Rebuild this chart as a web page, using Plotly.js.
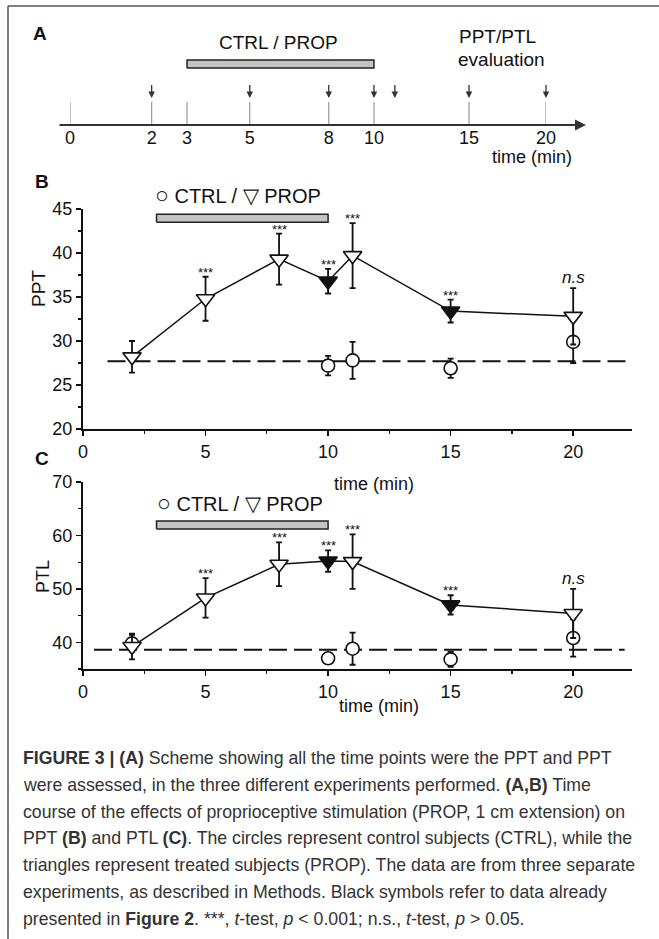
<!DOCTYPE html>
<html><head><meta charset="utf-8">
<script src="https://cdn.plot.ly/plotly-3.0.1.min.js"></script>
<style>html,body{margin:0;padding:0;background:#fff}</style>
</head><body><div id="chart" style="width:659px;height:939px"></div>
<script>
// ---------- Panel A (scheme) ----------
const schemeTicks = [0, 2, 3, 5, 8, 10, 15, 20];
const evalTimes = [2, 5, 8, 10, 11, 15, 20];
const treatment = [3, 10];

// ---------- Panels B & C ----------
const times = [2, 5, 8, 10, 11, 15, 20];
const propFilled = [false, false, false, true, false, true, false];

const pptProp = [28.2, 34.8, 39.3, 36.8, 39.7, 33.4, 32.8];
const pptPropErr = [1.8, 2.5, 2.9, 1.4, 3.7, 1.3, 3.2];
const pptSig = ['', '***', '***', '***', '***', '***', 'n.s'];
const pptCtrlTimes = [10, 11, 15, 20];
const pptCtrl = [27.2, 27.8, 26.9, 29.9];
const pptCtrlErr = [1.1, 2.1, 1.1, 2.4];
const pptBaseline = 27.7;
const pptBaselineSpan = [1.0, 22.4];

const ptlProp = [39.2, 48.3, 54.6, 55.2, 55.1, 47.0, 45.4];
const ptlPropErr = [2.4, 3.7, 4.1, 2.0, 5.1, 1.8, 4.6];
const ptlSig = ['', '***', '***', '***', '***', '***', 'n.s'];
const ptlCtrlTimes = [2, 10, 11, 15, 20];
const ptlCtrl = [39.8, 37.0, 38.8, 36.8, 40.8];
const ptlCtrlErr = [1.6, 0.8, 3.0, 1.4, 3.5];
const ptlBaseline = 38.6;
const ptlBaselineSpan = [0.45, 22.1];

const captionLines = [
  '<b>FIGURE 3 | (A)</b> Scheme showing all the time points were the PPT and PPT',
  'were assessed, in the three different experiments performed. <b>(A,B)</b> Time',
  'course of the effects of proprioceptive stimulation (PROP, 1 cm extension) on',
  'PPT <b>(B)</b> and PTL <b>(C)</b>. The circles represent control subjects (CTRL), while the',
  'triangles represent treated subjects (PROP). The data are from three separate',
  'experiments, as described in Methods. Black symbols refer to data already',
  'presented in <b>Figure 2</b>. ***, <i>t</i>-test, <i>p</i> &lt; 0.001; n.s., <i>t</i>-test, <i>p</i> &gt; 0.05.'
];

// ---------- layout helpers ----------
const W = 659, H = 939;
const fx = p => p / W;
const fy = p => 1 - p / H;
const FONT = 'Liberation Sans, Arial, sans-serif';
const OFF = 9; // offset for the schematic (log-like) time axis of panel A
const sx = t => t + OFF;

const traces = [];

// Panel A: vertical tick marks
const tx = [], ty = [];
schemeTicks.forEach(t => { tx.push(sx(t), sx(t), null); ty.push(0, 1, null); });
traces.push({x: tx, y: ty, xaxis: 'x3', yaxis: 'y3', mode: 'lines',
  line: {color: '#999', width: 1.2}, hoverinfo: 'skip'});
// Panel A: treatment bar
traces.push({x: [sx(treatment[0]), sx(treatment[1]), sx(treatment[1]), sx(treatment[0]), sx(treatment[0])],
  y: [2.48, 2.48, 2.83, 2.83, 2.48], xaxis: 'x3', yaxis: 'y3', mode: 'lines', fill: 'toself',
  fillcolor: '#c4c4c4', line: {color: '#222', width: 1.5}, hoverinfo: 'skip'});

function panel(xa, ya, ctrlT, ctrl, ctrlErr, prop, propErr, base, span, barY) {
  traces.push({x: span, y: [base, base], xaxis: xa, yaxis: ya, mode: 'lines',
    line: {color: '#111', width: 2, dash: '18px,7px'}, hoverinfo: 'skip'});
  traces.push({x: [treatment[0], treatment[1], treatment[1], treatment[0], treatment[0]],
    y: [barY[0], barY[0], barY[1], barY[1], barY[0]], xaxis: xa, yaxis: ya, mode: 'lines',
    fill: 'toself', fillcolor: '#c4c4c4', line: {color: '#222', width: 1.5}, hoverinfo: 'skip'});
  traces.push({x: ctrlT, y: ctrl, xaxis: xa, yaxis: ya, mode: 'markers', cliponaxis: false,
    error_y: {type: 'data', array: ctrlErr, color: '#111', thickness: 1.8, width: 3},
    marker: {symbol: 'circle', size: 13, color: '#fff', line: {color: '#111', width: 1.6}}});
  traces.push({x: times, y: prop, xaxis: xa, yaxis: ya, mode: 'lines+markers', cliponaxis: false,
    line: {color: '#111', width: 1.5},
    error_y: {type: 'data', array: propErr, color: '#111', thickness: 1.8, width: 3},
    marker: {symbol: 'triangle-down', size: 16, color: propFilled.map(f => f ? '#111' : '#fff'),
      line: {color: '#111', width: 1.6}}});
}
panel('x', 'y', pptCtrlTimes, pptCtrl, pptCtrlErr, pptProp, pptPropErr, pptBaseline, pptBaselineSpan, [43.5, 44.4]);
panel('x2', 'y2', ptlCtrlTimes, ptlCtrl, ptlCtrlErr, ptlProp, ptlPropErr, ptlBaseline, ptlBaselineSpan, [61.2, 62.7]);

const ann = [];
function txt(x, y, text, size, extra) {
  ann.push(Object.assign({x: fx(x), y: fy(y), xref: 'paper', yref: 'paper', text: text,
    xanchor: 'center', yanchor: 'middle',
    showarrow: false, font: {family: FONT, size: size, color: '#111'}}, extra || {}));
}
// Panel A texts
txt(40, 33, '<b>A</b>', 19);
txt(278, 42, 'CTRL / PROP', 19);
txt(497, 36, 'PPT/PTL', 19);
txt(501, 60, 'evaluation', 19);
txt(532, 157, 'time (min)', 18);
// axis arrow of A
ann.push({x: fx(586), y: fy(125), xref: 'paper', yref: 'paper', ax: -528, ay: 0, axref: 'pixel', ayref: 'pixel',
  text: '', showarrow: true, arrowhead: 2, arrowsize: 1.1, arrowwidth: 2, arrowcolor: '#333'});
// evaluation arrows
evalTimes.forEach(t => ann.push({x: Math.log10(sx(t)), y: 1.17, xref: 'x3', yref: 'y3',
  ax: Math.log10(sx(t)), ay: 1.8, axref: 'x3', ayref: 'y3', text: '', showarrow: true,
  arrowhead: 2, arrowsize: 1, arrowwidth: 1.3, arrowcolor: '#333'}));

// Panel B/C texts
const legendText = '<span style="font-size:23px">○</span> CTRL / <span style="font-size:21px">▽</span> PROP';
txt(42, 181, '<b>B</b>', 19);
txt(42, 458, '<b>C</b>', 19);
txt(238, 195, legendText, 20);
txt(240, 503, legendText, 20);
txt(38, 289, 'PPT', 19, {textangle: -90});
txt(43, 577, 'PTL', 18, {textangle: -90});
txt(374, 484, 'time (min)', 18);
txt(379, 706, 'time (min)', 18);

function sig(xa, ya, vals, errs, s) {
  times.forEach((t, i) => {
    if (!s[i]) return;
    const ns = s[i] === 'n.s';
    ann.push({x: t, y: vals[i] + errs[i], xref: xa, yref: ya, showarrow: false,
      xanchor: 'center', yanchor: 'bottom',
      yshift: ns ? -1 : -5, text: ns ? '<i>n.s</i>' : '***',
      font: {family: FONT, size: ns ? 17 : 13, color: '#111'}});
  });
}
sig('x', 'y', pptProp, pptPropErr, pptSig);
sig('x2', 'y2', ptlProp, ptlPropErr, ptlSig);

// caption
captionLines.forEach((l, i) => ann.push({x: fx(21), y: fy(758 + i * 26.8), xref: 'paper', yref: 'paper',
  xanchor: 'left', yanchor: 'middle', showarrow: false, align: 'left', text: l,
  font: {family: FONT, size: 17.7, color: '#333'}}));

const axBase = {showgrid: false, zeroline: false, showline: true, linecolor: '#111', linewidth: 2,
  ticks: 'outside', ticklen: 5, tickwidth: 1.5, tickcolor: '#111',
  tickfont: {family: FONT, size: 18, color: '#111'}};

const layout = {
  width: W, height: H, margin: {l: 0, r: 0, t: 0, b: 0},
  paper_bgcolor: '#fff', plot_bgcolor: 'rgba(0,0,0,0)', showlegend: false,
  font: {family: FONT},
  xaxis: Object.assign({}, axBase, {domain: [fx(83), fx(632)], range: [0, 22.4], anchor: 'y',
    tick0: 0, dtick: 5, minor: {dtick: 2.5, ticklen: 3, ticks: 'outside', tickcolor: '#111', tickwidth: 1.2}}),
  yaxis: Object.assign({}, axBase, {domain: [fy(429), fy(209)], range: [20, 45], anchor: 'x',
    tick0: 0, dtick: 5, minor: {dtick: 2.5, ticklen: 3, ticks: 'outside', tickcolor: '#111', tickwidth: 1.2}}),
  xaxis2: Object.assign({}, axBase, {domain: [fx(83), fx(632)], range: [0, 22.4], anchor: 'y2',
    tick0: 0, dtick: 5, minor: {dtick: 2.5, ticklen: 3, ticks: 'outside', tickcolor: '#111', tickwidth: 1.2}}),
  yaxis2: Object.assign({}, axBase, {domain: [fy(669), fy(482)], range: [35, 70], anchor: 'x2',
    tick0: 0, dtick: 10, minor: {dtick: 5, ticklen: 3, ticks: 'outside', tickcolor: '#111', tickwidth: 1.2}}),
  xaxis3: {type: 'log', domain: [fx(70), fx(546)], range: [Math.log10(sx(0)), Math.log10(sx(20))],
    anchor: 'y3', showgrid: false, zeroline: false, showline: false, ticks: '',
    tickmode: 'array', tickvals: schemeTicks.map(sx), ticktext: schemeTicks.map(String),
    tickfont: {family: FONT, size: 18, color: '#111'}},
  yaxis3: {domain: [fy(125), fy(10)], range: [0, 5], anchor: 'x3', showgrid: false, zeroline: false,
    showline: false, showticklabels: false, ticks: ''},
  annotations: ann,
  shapes: [
    {type: 'line', xref: 'paper', yref: 'paper', x0: fx(8), x1: 1, y0: fy(6), y1: fy(6), line: {color: '#555', width: 1.5}},
    {type: 'line', xref: 'paper', yref: 'paper', x0: fx(8), x1: fx(8), y0: fy(6), y1: 0, line: {color: '#555', width: 1.5}}
  ]
};
Plotly.newPlot('chart', traces, layout, {staticPlot: true});
</script></body></html>
